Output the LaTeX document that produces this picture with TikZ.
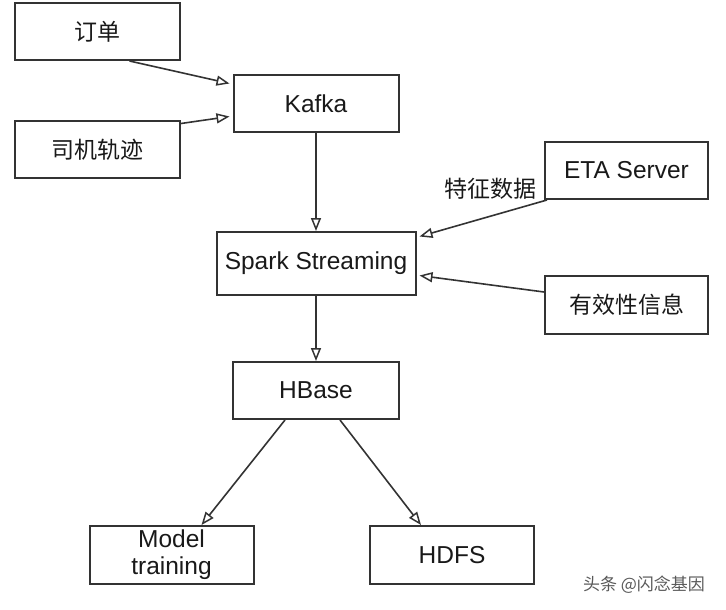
\documentclass[tikz,border=0pt]{standalone}
\usepackage{fontspec}
\setmainfont{Liberation Sans}
\newfontfamily\cjk{Noto Sans CJK SC}
\usetikzlibrary{arrows.meta, positioning, calc}

\begin{document}
\begin{tikzpicture}[
    x=1pt, y=-1pt,
    box/.style={rectangle, draw=black!80, line width=2pt, fill=white, text=black!90, align=center, inner sep=0pt,
        minimum width=165pt, minimum height=57pt, font=\fontsize{24.5}{31}\selectfont},
    arrow/.style={draw=black!80, line width=1.6pt, -{Triangle[open, length=13pt, width=10pt, line width=1.5pt]}}
]
\useasboundingbox (0,0) rectangle (726,610);

% Sources
\node[box] (order) at (97.5,31.5) {\cjk\fontsize{23}{28}\selectfont 订单};
\node[box] (track) at (97.5,149.5) {\cjk\fontsize{23}{28}\selectfont 司机轨迹};
\node[box] (kafka) at (316,103.5) {Kafka};

% Streaming layer
\node[box, minimum width=199pt, minimum height=63pt] (spark) at (316,263.5) {Spark Streaming};
\node[box, minimum width=163pt] (eta) at (626.5,170.5) {ETA Server};
\node[box, minimum width=163pt, minimum height=58pt] (valid) at (626.5,305) {\cjk\fontsize{23}{28}\selectfont 有效性信息};
\node[font=\cjk\fontsize{23}{28}\selectfont, text=black!90] (feat) at (490,189) {特征数据};

% Storage
\node[box, minimum width=166pt] (hbase) at (316,390.5) {HBase};
\node[box, minimum width=164pt, minimum height=58pt] (model) at (171.5,555) {\raisebox{-4pt}{Model}\\training};
\node[box, minimum width=164pt, minimum height=58pt] (hdfs) at (452,555) {HDFS};

% Connections
\draw[arrow] ([xshift=32pt]order.south) -- ([xshift=-3pt, yshift=20pt]kafka.west);
\draw[arrow] ([yshift=26pt]track.east) -- ([xshift=-3pt, yshift=-13pt]kafka.west);
\draw[arrow] (kafka.south) -- (spark.north);
\draw[arrow] ([xshift=3pt]eta.south west) -- ([xshift=3pt, yshift=27pt]spark.east);
\draw[arrow] ([yshift=13pt]valid.west) -- ([xshift=3pt, yshift=-12pt]spark.east);
\draw[arrow] (spark.south) -- (hbase.north);
\draw[arrow] ([xshift=-31pt]hbase.south) -- ([xshift=30pt]model.north);
\draw[arrow] ([xshift=24pt]hbase.south) -- ([xshift=-31pt]hdfs.north);

% Watermark
\node[font=\cjk\fontsize{17}{20}\selectfont, text=black!65] (mark) at (644,585) {头条 @闪念基因};

\end{tikzpicture}
\end{document}
